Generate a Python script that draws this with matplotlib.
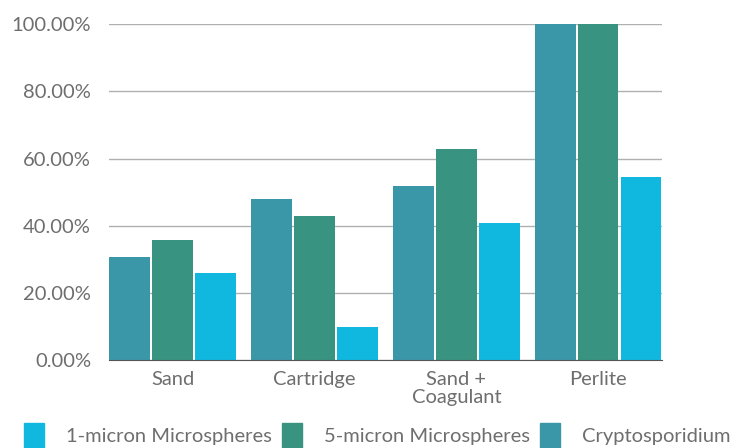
import numpy as np
import matplotlib.pyplot as plt
from matplotlib.patches import Patch
from matplotlib.ticker import FuncFormatter

plt.rcParams["font.family"] = ["Lato", "DejaVu Sans"]

categories = ["Sand", "Cartridge", "Sand +\nCoagulant", "Perlite"]
crypto = [30.7, 47.9, 51.8, 100.0]
micron5 = [35.7, 42.9, 62.8, 100.0]
micron1 = [25.9, 9.8, 40.8, 54.5]

c_crypto = "#3a97a8"
c_5 = "#389480"
c_1 = "#10b8e0"
txt = "#6e6e6e"

fig = plt.figure(figsize=(7.47, 4.48), dpi=100)
ax = fig.add_axes([0.146, 0.196, 0.74, 0.75])

x = np.arange(len(categories))
w = 0.285
gap = 0.303
ax.bar(x - gap, crypto, w, color=c_crypto, zorder=3)
ax.bar(x, micron5, w, color=c_5, zorder=3)
ax.bar(x + gap, micron1, w, color=c_1, zorder=3)

ax.set_xlim(-0.448, 3.448)
ax.set_ylim(0, 100)
ax.set_yticks(np.arange(0, 101, 20))
ax.yaxis.set_major_formatter(FuncFormatter(lambda v, p: f"{v:.2f}%"))
ax.yaxis.grid(True, color="#b0b0b0", linewidth=1, zorder=0)
ax.set_xticks(x)
ax.set_xticklabels(categories, linespacing=1.05)
ax.tick_params(length=0, labelsize=14.5, colors=txt)
ax.tick_params(axis="y", pad=13)
ax.tick_params(axis="x", pad=8)
for s in ["top", "right", "left"]:
    ax.spines[s].set_visible(False)
ax.spines["bottom"].set_color("#555555")
ax.spines["bottom"].set_zorder(4)

handles = [Patch(color=c_1), Patch(color=c_5), Patch(color=c_crypto)]
labels = ["1-micron Microspheres", "5-micron Microspheres", "Cryptosporidium"]
leg = fig.legend(handles, labels, loc="lower center", bbox_to_anchor=(0.505, -0.04), ncol=3,
                 frameon=False, fontsize=14.5, handlelength=1.0, handleheight=1.5,
                 columnspacing=0.5, handletextpad=1.1)
for t in leg.get_texts():
    t.set_color(txt)

fig.savefig("out.png", dpi=100)
